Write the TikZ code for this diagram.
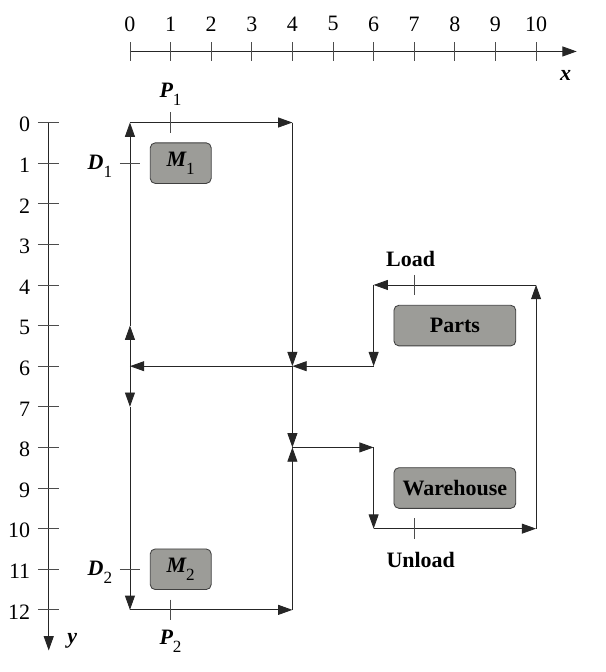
\documentclass[tikz,border=0pt]{standalone}
\usepackage{fontspec}
\setmainfont{Liberation Serif}
\usepackage{tikz}
\usetikzlibrary{arrows.meta}
\usetikzlibrary{positioning}
\definecolor{boxgray}{RGB}{156,156,152}
\newcommand{\subidx}[1]{\raisebox{-5.5pt}{\normalfont\fontsize{12}{14}\selectfont #1}}
\tikzstyle{machine} = [rectangle, rounded corners=3.5pt, minimum width=1.5cm, minimum height=1cm, text centered, draw=black!75, line width=0.6pt, fill=boxgray, font=\bfseries\itshape]
\tikzstyle{store} = [rectangle, rounded corners=3.5pt, minimum width=3cm, minimum height=1cm, text centered, draw=black!75, line width=0.6pt, fill=boxgray, font=\bfseries]
\tikzstyle{arrow} = [line width=0.6pt, draw=black!85, -{Triangle[length=10pt, width=7pt]}]
\tikzstyle{tick} = [line width=0.6pt, draw=black!70]
\tikzstyle{lbl} = [inner sep=0pt, font=\bfseries\itshape]
\tikzstyle{word} = [inner sep=0pt, font=\bfseries]
\tikzstyle{num} = [inner sep=0pt]

\begin{document}
\fontsize{15.4}{18}\selectfont
\begin{tikzpicture}[x=1cm, y=-1cm]
\useasboundingbox (-3.2,-3.017) rectangle (11.72,13.53);

% axes
\coordinate (xorig) at (0,-1.75);
\coordinate (xend) at (11,-1.75);
\coordinate (yorig) at (-2,0);
\coordinate (yend) at (-2,13);
\draw [arrow] (xorig) -- (xend);
\draw [arrow] (yorig) -- (yend);
\foreach \i in {0,...,10} {
  \draw [tick] (\i,-1.98) -- (\i,-1.52);
  \node (xnum\i) [num] at (\i,-2.43) {\i};
}
\foreach \i in {0,...,12} {
  \draw [tick] (-2.27,\i) -- (-1.74,\i);
  \node (ynum\i) [num, anchor=east] at (-2.45,\i+0.05) {\i};
}
\node (xname) [lbl] at (10.73,-1.15) {x};
\node (yname) [lbl] at (-1.42,12.77) {y};

% boxes
\node (m1) [machine] at (1.25,1) {M\subidx{1}};
\node (m2) [machine] at (1.25,11) {M\subidx{2}};
\node (parts) [store] at (8,5) {Parts};
\node (warehouse) [store] at (8,9) {Warehouse};

% path points
\coordinate (n00) at (0,0);
\coordinate (n40) at (4,0);
\coordinate (n05) at (0,5);
\coordinate (n06) at (0,6);
\coordinate (n07) at (0,7);
\coordinate (n012) at (0,12);
\coordinate (n46) at (4,6);
\coordinate (n48) at (4,8);
\coordinate (n412) at (4,12);
\coordinate (n64) at (6,4);
\coordinate (n66) at (6,6);
\coordinate (n68) at (6,8);
\coordinate (n610) at (6,10);
\coordinate (n104) at (10,4);
\coordinate (n1010) at (10,10);

\draw [arrow] (n06) -- (n05);
\draw [arrow] (n05) -- (n00);
\draw [arrow] (n00) -- (n40);
\draw [arrow] (n40) -- (n46);
\draw [arrow] (n46) -- (n06);
\draw [arrow] (n06) -- (n07);
\draw [arrow] (n07) -- (n012);
\draw [arrow] (n012) -- (n412);
\draw [arrow] (n412) -- (n48);
\draw [arrow] (n46) -- (n48);
\draw [arrow] (n48) -- (n68);
\draw [arrow] (n68) -- (n610);
\draw [arrow] (n610) -- (n1010);
\draw [arrow] (n1010) -- (n104);
\draw [arrow] (n104) -- (n64);
\draw [arrow] (n64) -- (n66);
\draw [arrow] (n66) -- (n46);

% stations
\draw [tick] (1,-0.25) -- (1,0.25);
\draw [tick] (1,11.75) -- (1,12.25);
\draw [tick] (-0.25,1) -- (0.25,1);
\draw [tick] (-0.25,11) -- (0.25,11);
\draw [tick] (7,3.75) -- (7,4.25);
\draw [tick] (7,9.75) -- (7,10.25);
\node (p1) [lbl] at (1,-0.70) {P\subidx{1}};
\node (p2) [lbl] at (1,12.77) {P\subidx{2}};
\node (d1) [lbl] at (-0.74,1.07) {D\subidx{1}};
\node (d2) [lbl] at (-0.74,11.07) {D\subidx{2}};
\node (load) [word] at (6.91,3.37) {Load};
\node (unload) [word] at (7.16,10.76) {Unload};
\end{tikzpicture}
\end{document}
